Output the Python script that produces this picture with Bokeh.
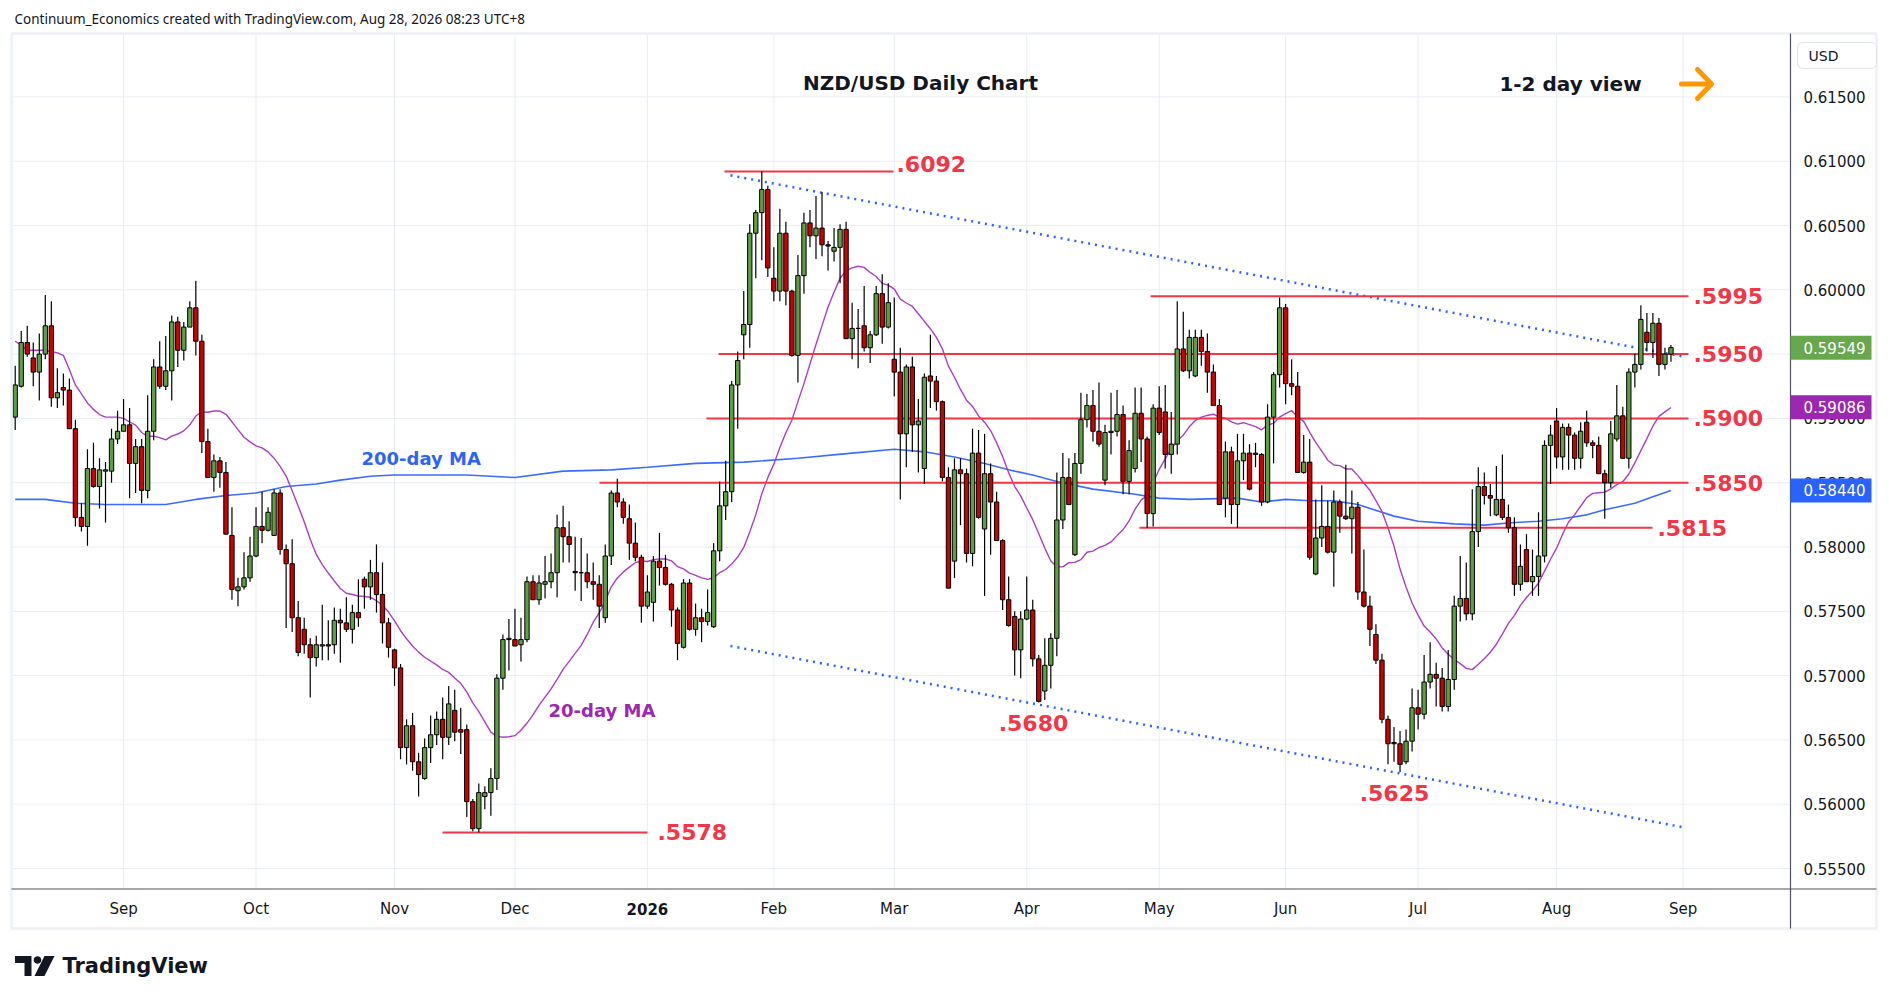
import numpy as np
import pandas as pd
from bokeh.plotting import figure
from bokeh.models import Range1d, Label, ColumnDataSource
from bokeh.embed import file_html
from bokeh.resources import INLINE
from bokeh.core.properties import value

# ------------------------------------------------------------------ data
start_date = "2025-08-06"
holidays = ["2025-12-25", "2026-01-01"]

opens = [
    .5901, .5925, .5959, .5947, .5936, .5950, .5972, .5916, .5924, .5922,
    .5892, .5823, .5816, .5861, .5847, .5859, .5859, .5884, .5890, .5895,
    .5865, .5878, .5844, .5890, .5940, .5925, .5937, .5975, .5953, .5971,
    .5986, .5960, .5882, .5854, .5867, .5858, .5809, .5766, .5769, .5776,
    .5793, .5816, .5813, .5809, .5842, .5798, .5787, .5745, .5736, .5724,
    .5714, .5723, .5724, .5724, .5743, .5741, .5736, .5749, .5775, .5769,
    .5780, .5763, .5741, .5720, .5706, .5644, .5661, .5633, .5620, .5644,
    .5654, .5666, .5652, .5673, .5658, .5658, .5602, .5581, .5606, .5609,
    .5620, .5698, .5728, .5728, .5724, .5728, .5773, .5759, .5771, .5773,
    .5780, .5815, .5808, .5781, .5780, .5780, .5773, .5771, .5745, .5793,
    .5842, .5835, .5822, .5803, .5792, .5754, .5757, .5789, .5784, .5771,
    .5751, .5722, .5772, .5736, .5745, .5742, .5738, .5797, .5832, .5843,
    .5926, .5965, .5973, .6044, .6060, .6078, .6009, .5999, .6044, .5999,
    .5949, .6011, .6052, .6042, .6048, .6035, .6030, .6033, .6047, .5962,
    .5970, .5972, .5955, .5965, .5997, .5971, .5946, .5936, .5888, .5940,
    .5895, .5861, .5933, .5929, .5913, .5854, .5789, .5860, .5857, .5795,
    .5873, .5814, .5857, .5835, .5805, .5759, .5746, .5720, .5744, .5751,
    .5713, .5688, .5708, .5729, .5821, .5854, .5794, .5865, .5899, .5910,
    .5890, .5852, .5889, .5890, .5903, .5851, .5861, .5904, .5884, .5826,
    .5908, .5905, .5872, .5880, .5954, .5937, .5933, .5963, .5952, .5936,
    .5910, .5838, .5874, .5833, .5867, .5873, .5873, .5872, .5835, .5901,
    .5934, .5986, .5927, .5925, .5858, .5866, .5779, .5807, .5816, .5796,
    .5835, .5824, .5822, .5831, .5765, .5754, .5732, .5712, .5666, .5648,
    .5647, .5633, .5649, .5675, .5670, .5695, .5701, .5698, .5676, .5697,
    .5754, .5760, .5748, .5812, .5847, .5840, .5825, .5837, .5823, .5815,
    .5771, .5798, .5773, .5777, .5793, .5879, .5898, .5870, .5893, .5887,
    .5869, .5897, .5881, .5879, .5857, .5850, .5884, .5902, .5869, .5936,
    .5942, .5967, .5959, .5974, .5942, .5950,
]
highs = [
    .5941, .5968, .5972, .5959, .5966, .5996, .5991, .5939, .5935, .5931,
    .5899, .5834, .5876, .5881, .5869, .5866, .5892, .5906, .5915, .5908,
    .5884, .5884, .5918, .5946, .5960, .5964, .5980, .5979, .5975, .5991,
    .6007, .5965, .5892, .5872, .5870, .5866, .5831, .5776, .5796, .5808,
    .5831, .5843, .5831, .5845, .5845, .5802, .5806, .5758, .5745, .5729,
    .5731, .5755, .5743, .5753, .5752, .5761, .5755, .5775, .5777, .5790,
    .5802, .5788, .5745, .5721, .5709, .5666, .5671, .5640, .5651, .5669,
    .5672, .5683, .5692, .5689, .5675, .5662, .5604, .5616, .5614, .5628,
    .5701, .5732, .5744, .5752, .5745, .5777, .5778, .5778, .5793, .5795,
    .5825, .5832, .5820, .5808, .5807, .5795, .5788, .5778, .5802, .5844,
    .5853, .5838, .5833, .5819, .5794, .5778, .5793, .5811, .5794, .5772,
    .5753, .5775, .5775, .5756, .5752, .5767, .5803, .5851, .5867, .5929,
    .5952, .5999, .6051, .6062, .6092, .6081, .6033, .6063, .6053, .6000,
    .6027, .6060, .6062, .6073, .6076, .6038, .6048, .6051, .6053, .5990,
    .5985, .6003, .5968, .6003, .6012, .6005, .5994, .5955, .5942, .5948,
    .5915, .5935, .5965, .5933, .5914, .5862, .5869, .5869, .5861, .5892,
    .5891, .5888, .5865, .5843, .5806, .5777, .5750, .5750, .5777, .5759,
    .5716, .5729, .5733, .5858, .5873, .5869, .5873, .5920, .5919, .5922,
    .5928, .5895, .5920, .5922, .5910, .5883, .5924, .5924, .5886, .5911,
    .5925, .5926, .5905, .5991, .5983, .5969, .5969, .5969, .5966, .5942,
    .5915, .5882, .5878, .5888, .5888, .5880, .5881, .5873, .5911, .5936,
    .5994, .5989, .5946, .5936, .5887, .5884, .5837, .5848, .5836, .5844,
    .5837, .5864, .5844, .5835, .5798, .5762, .5740, .5717, .5669, .5660,
    .5657, .5658, .5690, .5689, .5716, .5726, .5710, .5706, .5720, .5762,
    .5793, .5788, .5845, .5862, .5858, .5849, .5863, .5872, .5833, .5823,
    .5802, .5810, .5798, .5827, .5883, .5895, .5908, .5896, .5896, .5889,
    .5897, .5906, .5883, .5886, .5860, .5898, .5926, .5909, .5939, .5950,
    .5988, .5982, .5982, .5978, .5955, .5957,
]
lows = [
    .5891, .5924, .5948, .5925, .5914, .5946, .5909, .5908, .5910, .5892,
    .5816, .5812, .5801, .5846, .5830, .5819, .5850, .5880, .5890, .5838,
    .5842, .5834, .5838, .5883, .5923, .5922, .5914, .5940, .5945, .5971,
    .5949, .5873, .5854, .5843, .5846, .5810, .5759, .5754, .5767, .5773,
    .5792, .5803, .5812, .5809, .5794, .5737, .5734, .5715, .5717, .5683,
    .5707, .5712, .5712, .5717, .5710, .5734, .5725, .5738, .5752, .5759,
    .5749, .5725, .5714, .5692, .5635, .5631, .5626, .5606, .5619, .5632,
    .5646, .5635, .5646, .5649, .5639, .5590, .5579, .5578, .5596, .5591,
    .5611, .5689, .5704, .5723, .5711, .5726, .5759, .5755, .5760, .5768,
    .5761, .5788, .5788, .5766, .5758, .5768, .5759, .5737, .5741, .5786,
    .5831, .5818, .5790, .5789, .5741, .5752, .5742, .5770, .5770, .5738,
    .5712, .5721, .5735, .5731, .5726, .5739, .5737, .5789, .5821, .5835,
    .5892, .5946, .5955, .6009, .6023, .6010, .5991, .5991, .5988, .5948,
    .5928, .5997, .6033, .6024, .6026, .6015, .6022, .6005, .5962, .5946,
    .5939, .5952, .5943, .5964, .5958, .5970, .5917, .5837, .5862, .5874,
    .5858, .5849, .5908, .5906, .5851, .5768, .5776, .5817, .5788, .5785,
    .5822, .5762, .5794, .5805, .5751, .5738, .5700, .5698, .5743, .5707,
    .5679, .5681, .5690, .5715, .5814, .5833, .5793, .5857, .5893, .5882,
    .5878, .5848, .5872, .5886, .5841, .5841, .5858, .5866, .5815, .5816,
    .5887, .5861, .5857, .5872, .5936, .5931, .5932, .5941, .5920, .5910,
    .5833, .5823, .5818, .5815, .5852, .5844, .5862, .5832, .5834, .5865,
    .5924, .5911, .5918, .5858, .5857, .5790, .5778, .5800, .5795, .5769,
    .5811, .5821, .5795, .5759, .5753, .5723, .5709, .5663, .5631, .5633,
    .5625, .5631, .5641, .5658, .5666, .5690, .5676, .5672, .5672, .5689,
    .5742, .5743, .5743, .5800, .5833, .5824, .5824, .5821, .5811, .5762,
    .5766, .5773, .5762, .5762, .5788, .5849, .5861, .5860, .5860, .5860,
    .5861, .5878, .5869, .5857, .5822, .5846, .5882, .5869, .5861, .5924,
    .5938, .5952, .5947, .5933, .5938, .5944,
]
closes = [
    .5926, .5959, .5950, .5936, .5950, .5972, .5916, .5920, .5922, .5892,
    .5823, .5816, .5861, .5847, .5860, .5860, .5884, .5890, .5895, .5865,
    .5878, .5844, .5890, .5940, .5925, .5937, .5975, .5953, .5971, .5986,
    .5960, .5882, .5854, .5867, .5858, .5810, .5767, .5769, .5776, .5793,
    .5816, .5813, .5827, .5842, .5798, .5787, .5745, .5718, .5724, .5714,
    .5724, .5724, .5723, .5743, .5741, .5736, .5749, .5745, .5769, .5780,
    .5763, .5741, .5722, .5706, .5644, .5661, .5633, .5623, .5644, .5654,
    .5666, .5652, .5678, .5656, .5656, .5602, .5581, .5609, .5609, .5620,
    .5698, .5728, .5729, .5723, .5728, .5773, .5759, .5772, .5773, .5780,
    .5815, .5808, .5802, .5780, .5780, .5773, .5771, .5754, .5793, .5842,
    .5835, .5823, .5803, .5792, .5754, .5765, .5789, .5784, .5771, .5751,
    .5725, .5772, .5736, .5745, .5742, .5749, .5797, .5832, .5843, .5926,
    .5945, .5973, .6044, .6060, .6078, .6017, .5999, .6044, .5999, .5949,
    .6011, .6052, .6042, .6048, .6035, .6034, .6033, .6047, .5962, .5970,
    .5970, .5955, .5965, .5997, .5971, .5990, .5936, .5888, .5940, .5895,
    .5898, .5932, .5929, .5913, .5854, .5768, .5860, .5857, .5795, .5873,
    .5823, .5857, .5835, .5805, .5759, .5739, .5720, .5744, .5751, .5713,
    .5680, .5708, .5729, .5821, .5854, .5833, .5865, .5899, .5910, .5890,
    .5880, .5889, .5890, .5903, .5851, .5875, .5904, .5884, .5826, .5908,
    .5889, .5872, .5880, .5954, .5937, .5963, .5963, .5952, .5936, .5910,
    .5833, .5874, .5833, .5867, .5873, .5845, .5872, .5835, .5901, .5934,
    .5986, .5927, .5925, .5858, .5866, .5792, .5807, .5816, .5796, .5835,
    .5824, .5822, .5831, .5765, .5754, .5736, .5712, .5666, .5647, .5647,
    .5631, .5649, .5675, .5670, .5695, .5701, .5698, .5676, .5697, .5754,
    .5760, .5748, .5812, .5847, .5840, .5838, .5837, .5823, .5815, .5771,
    .5785, .5773, .5777, .5793, .5879, .5887, .5870, .5893, .5887, .5869,
    .5890, .5881, .5879, .5857, .5850, .5888, .5902, .5869, .5936, .5942,
    .5977, .5959, .5974, .5942, .5950, .5955,
]

# 20-day MA values for the first 19 sessions
ma20_lead = [.5960, .5957, .5953, .5953, .5953, .5953, .5952, .5951, .5949, .5938,
             .5926, .5919, .5912, .5907, .5903, .5901, .5901, .5901, .5900]
# 200-day MA (session number, value)
ma200_session = [1, 6, 11, 16, 21, 26, 31, 36, 41, 46, 51, 55, 60, 64, 70, 76, 84, 92,
                 100, 106, 114, 122, 131, 140, 147, 152, 157, 162, 166, 170, 174, 180,
                 187, 191, 196, 204, 208, 212, 216, 220, 224, 230, 234, 240, 245, 250,
                 254, 258, 262, 265, 270, 273, 276]
ma200_value = [.5837, .5837, .5834, .5833, .5833, .5833, .5837, .5840, .5842, .5847,
               .5849, .5852, .5855, .5856, .5856, .5856, .5854, .5859, .5860, .5862,
               .5865, .5866, .5869, .5873, .5876, .5874, .5870, .5865, .5860, .5856,
               .5851, .5845, .5841, .5838, .5837, .5838, .5835, .5837, .5836, .5836,
               .5833, .5824, .5820, .5818, .5817, .5819, .5820, .5822, .5825, .5829,
               .5834, .5839, .5844]

levels = [0.6092, 0.5995, 0.5950, 0.5900, 0.5850, 0.5815, 0.5578]
level_names = [".6092", ".5995", ".5950", ".5900", ".5850", ".5815", ".5578"]
low_names = [".5680", ".5625"]

trend_session = [119.8, 278.1]
trend_upper = [0.6089, 0.5948]
trend_lower = [0.5723, 0.5582]

price_ticks = [0.555, 0.560, 0.565, 0.570, 0.575, 0.580, 0.585, 0.590,
               0.595, 0.600, 0.605, 0.610, 0.615]
last_close = 0.59549
last_ma20 = 0.59086
last_ma200 = 0.58440

# ------------------------------------------------------------------ derived
n = len(closes)
days = pd.bdate_range(start_date, "2026-10-30")
days = days[~days.isin(pd.to_datetime(holidays))]
sess = np.arange(1, n + 1)

o = np.array(opens); c = np.array(closes)
up = c >= o
src = ColumnDataSource(dict(
    x=sess, high=highs, low=lows,
    top=np.maximum(o, c), bottom=np.minimum(o, c),
    color=np.where(up, "#5e9e45", "#cc0000"),
))

ma20 = pd.Series(closes).rolling(20).mean().to_numpy()
ma20[:19] = ma20_lead

# ------------------------------------------------------------------ layout helpers
# page pixel -> data coordinate (used only to place decorations)
def X(px):
    return (px - 14.7) / 6.021 + 1

def Y(py):
    return 0.600 - (py - 289.3) / 12860

PX = 1 / 12860.0          # one pixel in price units
FONT = "DejaVu Sans"
RED = "#f23645"
INK = "#131722"
W, H = 1885, 1000
PLOT_L, PLOT_R, PLOT_T, PLOT_B = 12, 1790, 33.5, 888.5

month_ticks, month_labels = [], []
for i in range(1, len(days)):
    if days[i].month != days[i - 1].month and X(PLOT_L) < i + 1 < X(PLOT_R):
        d = days[i]
        month_ticks.append(i + 1)
        month_labels.append(str(d.year) if d.month == 1 else d.strftime("%b"))

p = figure(frame_width=W, frame_height=H,
           x_range=Range1d(X(0), X(W)), y_range=Range1d(Y(H), Y(0)),
           output_backend="svg", toolbar_location=None,
           x_axis_location=None, y_axis_location=None,
           min_border=0, min_border_left=0, min_border_right=0,
           min_border_top=0, min_border_bottom=0)
p.background_fill_color = "white"
p.border_fill_color = "white"
p.outline_line_color = None
p.grid.visible = False

GRID = "#e8edf3"
# grid
p.segment(x0=X(PLOT_L), x1=X(PLOT_R), y0=price_ticks, y1=price_ticks,
          line_color=GRID, line_width=1)
p.segment(x0=month_ticks, x1=month_ticks, y0=Y(PLOT_T), y1=Y(PLOT_B),
          line_color=GRID, line_width=1)

# moving averages
p.line(ma200_session, ma200_value, line_color="#3b6cff", line_width=1.6)
p.line(sess, ma20, line_color="#ab3fc2", line_width=1.4)

# trend channel
p.line(trend_session, trend_upper, line_color="#2962ff", line_width=2.5, line_dash="2 5")
p.line(trend_session, trend_lower, line_color="#2962ff", line_width=2.5, line_dash="2 5")

# support / resistance levels
lvl_x0 = [X(724), X(1150), X(718), X(706), X(599), X(1139), X(442)]
lvl_x1 = [X(893), X(1688), X(1688), X(1688), X(1688), X(1652), X(647)]
p.segment(x0=lvl_x0, y0=levels, x1=lvl_x1, y1=levels, line_color=RED, line_width=2)

lab_x = [X(896), X(1693), X(1693), X(1693), X(1693), X(1657), X(657)]
lab_y = [levels[0] + 7 * PX] + levels[1:]
p.text(x=lab_x, y=lab_y, text=level_names, text_color=RED,
       text_font=value(FONT), text_font_size=value("22px"), text_font_style="bold",
       text_baseline="middle", text_align="left")
p.text(x=[X(1033), X(1394)], y=[Y(722), Y(792)], text=low_names, text_color=RED,
       text_font=value(FONT), text_font_size=value("22px"), text_font_style="bold",
       text_baseline="middle", text_align="center")

# candles
p.segment(x0="x", y0="high", x1="x", y1="low", source=src,
          line_color="#000000", line_width=1.2)
p.vbar(x="x", width=0.72, top="top", bottom="bottom", source=src,
       fill_color="color", line_color="#000000", line_width=1)

# captions
p.text(x=[X(361)], y=[Y(458)], text=["200-day MA"], text_color="#2f63f5",
       text_font=value(FONT), text_font_size=value("18px"), text_font_style="bold",
       text_baseline="middle")
p.text(x=[X(548)], y=[Y(710)], text=["20-day MA"], text_color="#9c27b0",
       text_font=value(FONT), text_font_size=value("18px"), text_font_style="bold",
       text_baseline="middle")
p.text(x=[X(920), X(1570)], y=[Y(82), Y(83)], text=["NZD/USD Daily Chart", "1-2 day view"],
       text_color=INK, text_font=value(FONT), text_font_size=value("20px"),
       text_font_style="bold", text_baseline="middle", text_align="center")

# orange arrow
p.line([X(1681), X(1709)], [Y(83.5), Y(83.5)], line_color="#ff9800", line_width=5,
       line_cap="round")
p.line([X(1697), X(1711), X(1697)], [Y(69), Y(83.5), Y(98)], line_color="#ff9800",
       line_width=5, line_cap="round", line_join="round")

# ------------------------------------------------------------------ axes (drawn on the same scales)
# outer light border
p.quad(left=X(11), right=X(1876), top=Y(33), bottom=Y(928),
       fill_color=None, line_color="#edf0f5", line_width=2.5)
AX = "#50535e"
p.segment(x0=X(PLOT_R), x1=X(PLOT_R), y0=Y(33), y1=Y(928), line_color=AX, line_width=1.2)
p.segment(x0=X(11), x1=X(1876), y0=Y(PLOT_B), y1=Y(PLOT_B), line_color=AX, line_width=1.2)

# price tick labels (the one under the last-price tag is hidden, as in the original)
shown = [t for t in price_ticks if abs(t - last_close) > 10 * PX]
p.text(x=X(1803), y=shown, text=[f"{t:.5f}" for t in shown], text_color=INK,
       text_font=value(FONT), text_font_size=value("15px"),
       text_baseline="middle", text_align="left")

# month labels
reg = [i for i, s in enumerate(month_labels) if not s.isdigit()]
yr = [i for i, s in enumerate(month_labels) if s.isdigit()]
p.text(x=[month_ticks[i] for i in reg], y=Y(908), text=[month_labels[i] for i in reg],
       text_color=INK, text_font=value(FONT), text_font_size=value("15px"),
       text_baseline="middle", text_align="center")
p.text(x=[month_ticks[i] for i in yr], y=Y(908), text=[month_labels[i] for i in yr],
       text_color=INK, text_font=value(FONT), text_font_size=value("15px"),
       text_font_style="bold", text_baseline="middle", text_align="center")

# last value tags
tag_vals = [last_close, last_ma20, last_ma200]
tag_cols = ["#68a84d", "#9c27b0", "#2962ff"]
p.quad(left=X(1790), right=X(1871), top=[v + 12 * PX for v in tag_vals],
       bottom=[v - 12 * PX for v in tag_vals], fill_color=tag_cols, line_color=None)
p.text(x=X(1803), y=tag_vals, text=[f"{v:.5f}" for v in tag_vals], text_color="white",
       text_font=value(FONT), text_font_size=value("15px"),
       text_baseline="middle", text_align="left")

# currency box
p.add_layout(Label(x=X(1797), y=Y(55), text="USD", text_color=INK,
                   text_font=FONT, text_font_size="14px", text_baseline="middle",
                   text_align="left", background_fill_color="white",
                   border_line_color="#e0e3eb", border_line_width=1,
                   padding=dict(left=11, right=38, top=5, bottom=5), border_radius=5))

# header & footer
p.text(x=[X(14)], y=[Y(18)],
       text=["Continuum_Economics created with TradingView.com, Aug 28, 2026 08:23 UTC+8"],
       text_color=INK, text_font=value("Noto Sans"), text_font_size=value("13.5px"),
       text_baseline="middle", text_align="left")
p.text(x=[X(62)], y=[Y(965)], text=["TradingView"], text_color=INK,
       text_font=value(FONT), text_font_size=value("21px"), text_font_style="bold",
       text_baseline="middle", text_align="left")
ang = np.linspace(0, 2 * np.pi, 20, endpoint=False)
p.patches(xs=[[X(14.5), X(31), X(31), X(24), X(24), X(14.5)],
              [X(37 + 3.8 * np.cos(a)) for a in ang],
              [X(44), X(54), X(44), X(34)]],
          ys=[[Y(955.5), Y(955.5), Y(975.5), Y(975.5), Y(962.5), Y(962.5)],
              [Y(959.5 + 3.8 * np.sin(a)) for a in ang],
              [Y(955.5), Y(955.5), Y(975.5), Y(975.5)]],
          fill_color=INK, line_color=None)

open("out.html", "w").write(file_html(p, INLINE))
